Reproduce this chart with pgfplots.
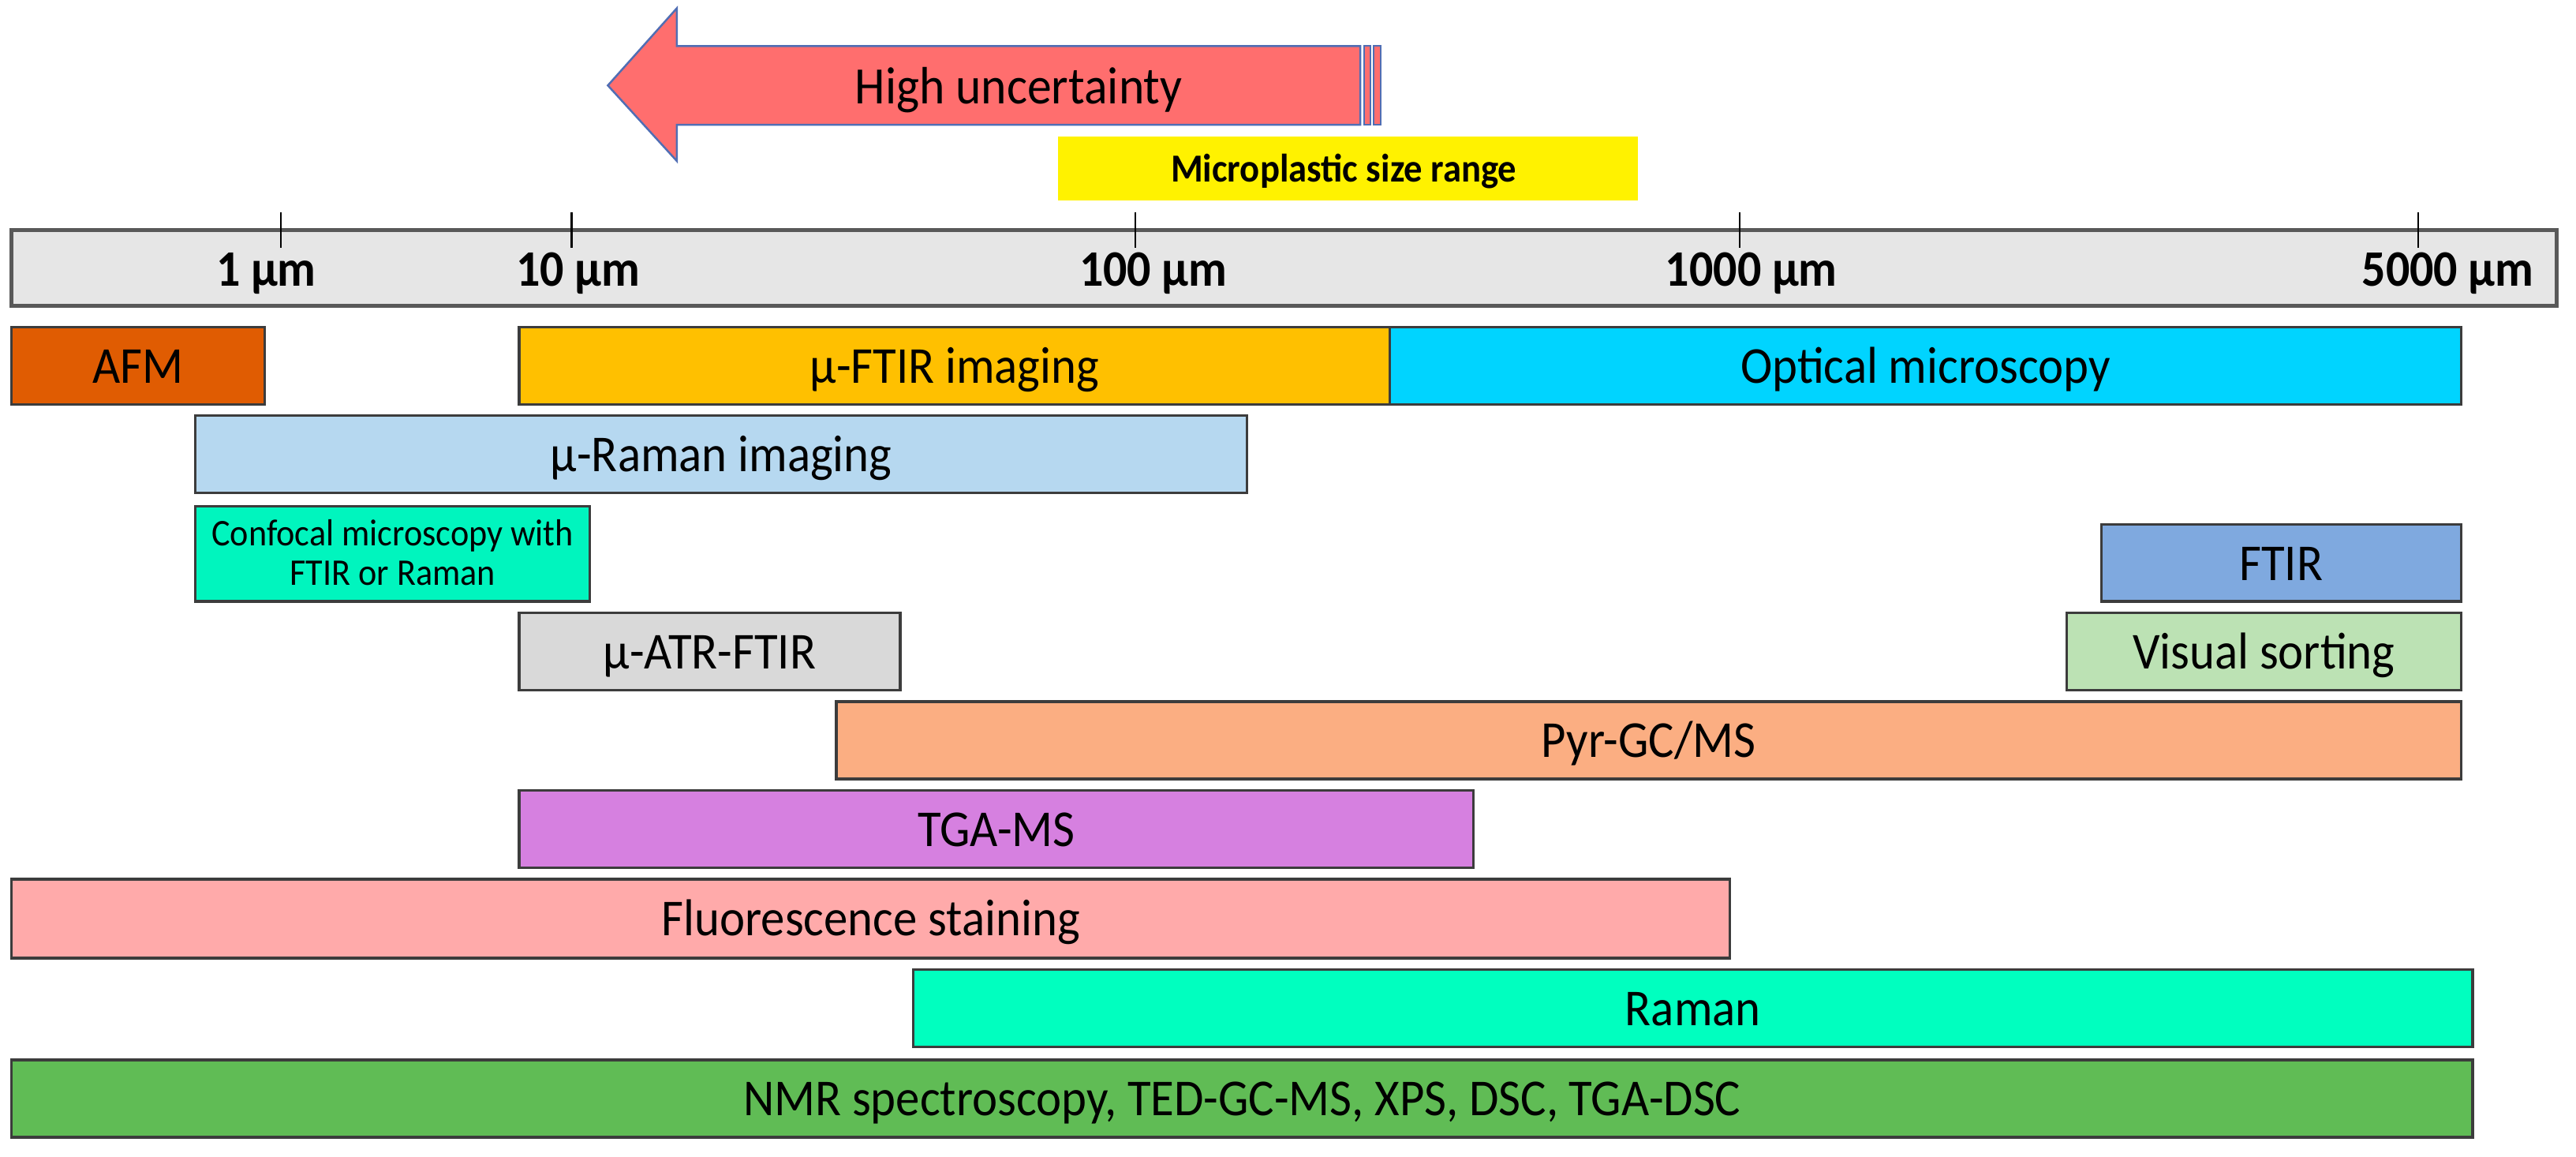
\documentclass[border=0pt]{standalone}
\usepackage{graphicx}
\usepackage{pgfplots}
\pgfplotsset{compat=1.18}
\usepackage{fontspec}
\setmainfont{Carlito}
\definecolor{cAFM}{RGB}{224,92,2}
\definecolor{cFTIRi}{RGB}{255,192,0}
\definecolor{cOpt}{RGB}{0,212,255}
\definecolor{cRamI}{RGB}{182,216,240}
\definecolor{cConf}{RGB}{0,245,190}
\definecolor{cFTIR}{RGB}{127,169,223}
\definecolor{cATR}{RGB}{217,217,217}
\definecolor{cVis}{RGB}{188,226,180}
\definecolor{cPyr}{RGB}{251,174,130}
\definecolor{cTGA}{RGB}{214,128,224}
\definecolor{cFluo}{RGB}{255,170,170}
\definecolor{cRam}{RGB}{0,255,191}
\definecolor{cNMR}{RGB}{96,188,85}
\definecolor{cArrow}{RGB}{255,110,110}
\definecolor{cArrowB}{RGB}{80,110,180}
\definecolor{cStrip}{RGB}{230,230,230}
\definecolor{cEdge}{RGB}{60,60,60}
\newcommand\st[1]{\scalebox{1}[1.08]{#1}}
% bar: x1 x2 y1 y2 colour label
\newcommand\rangebar[6]{%
  \addplot[fill=#5, draw=cEdge, line width=0.8pt] coordinates {(#1,#3) (#2,#3) (#2,#4) (#1,#4)} -- cycle;
  \node[font=\fontsize{14.6}{16}\selectfont, anchor=base, inner sep=0pt] at (axis cs:{(#1+#2)/2},{(#3+#4)/2+10.5}) {\st{#6}};
}
% tick: position, label centre, label
\newcommand\scaletick[3]{%
  \addplot[draw=black, line width=0.6pt] coordinates {(#1,129) (#1,151)};
  \node[font=\fontsize{14.4}{16}\selectfont\bfseries, anchor=base, inner sep=0pt] at (axis cs:#2,174) {\st{#3}};
}
\begin{document}
\begin{tikzpicture}
\begin{axis}[
  width=784pt, height=352pt, scale only axis,
  xmin=0, xmax=1568, ymin=0, ymax=704, y dir=reverse,
  hide axis, clip=false,
]
% invisible frame so that the picture has the full size
\addplot[draw=none, mark=none] coordinates {(0,0) (1568,0) (1568,704) (0,704)};
% High uncertainty arrow
\addplot[fill=cArrow, draw=cArrowB, line width=0.6pt] coordinates
  {(370,52) (412,5) (412,28) (828,28) (828,76) (412,76) (412,98)} -- cycle;
\addplot[fill=cArrow, draw=cArrowB, line width=0.5pt] coordinates
  {(830.5,28) (834,28) (834,76) (830.5,76)} -- cycle;
\addplot[fill=cArrow, draw=cArrowB, line width=0.5pt] coordinates
  {(836,28) (840.5,28) (840.5,76) (836,76)} -- cycle;
\node[font=\fontsize{14.8}{16}\selectfont, anchor=base, inner sep=0pt] at (axis cs:620,63) {\st{High uncertainty}};
% Microplastic size range
\addplot[fill=yellow, draw=none] coordinates {(644,83) (997,83) (997,122) (644,122)} -- cycle;
\node[font=\fontsize{11.2}{13}\selectfont\bfseries, anchor=base, inner sep=0pt] at (axis cs:818,110.5) {\st{Microplastic size range}};
% scale strip
\addplot[fill=cStrip, draw=black!65, line width=1.2pt] coordinates {(7,140) (1556,140) (1556,186) (7,186)} -- cycle;
\scaletick{171}{162}{1 µm}
\scaletick{348}{352}{10 µm}
\scaletick{691}{702}{100 µm}
\scaletick{1059}{1066}{1000 µm}
\scaletick{1472}{1490}{5000 µm}
% bars
\rangebar{7}{161}{199}{246}{cAFM}{AFM}
\rangebar{316}{846}{199}{246}{cFTIRi}{µ-FTIR imaging}
\rangebar{846}{1498}{199}{246}{cOpt}{Optical microscopy}
\rangebar{119}{759}{253}{300}{cRamI}{µ-Raman imaging}
\addplot[fill=cConf, draw=cEdge, line width=0.8pt] coordinates {(119,308) (359,308) (359,366) (119,366)} -- cycle;
\node[font=\fontsize{10.6}{13}\selectfont, anchor=base, inner sep=0pt] at (axis cs:239,332) {\st{Confocal microscopy with}};
\node[font=\fontsize{10.6}{13}\selectfont, anchor=base, inner sep=0pt] at (axis cs:239,356) {\st{FTIR or Raman}};
\rangebar{1279}{1498}{319}{366}{cFTIR}{FTIR}
\rangebar{316}{548}{373}{420}{cATR}{µ-ATR-FTIR}
\rangebar{1258}{1498}{373}{420}{cVis}{Visual sorting}
\rangebar{509}{1498}{427}{474}{cPyr}{Pyr-GC/MS}
\rangebar{316}{897}{481}{528}{cTGA}{TGA-MS}
\rangebar{7}{1053}{535}{583}{cFluo}{Fluorescence staining}
\rangebar{556}{1505}{590}{637}{cRam}{Raman}
\rangebar{7}{1505}{645}{692}{cNMR}{NMR spectroscopy, TED-GC-MS, XPS, DSC, TGA-DSC}
\end{axis}
\end{tikzpicture}
\end{document}
